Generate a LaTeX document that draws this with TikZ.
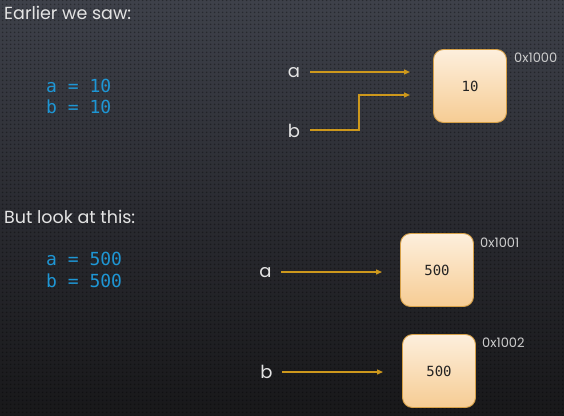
\documentclass[tikz,border=0pt]{standalone}
\usepackage{fontspec}
\usetikzlibrary{arrows.meta,patterns.meta}
\newfontfamily\titlefont{Poppins}
\newfontfamily\codefont{DejaVu Sans Mono}
\definecolor{bgtop}{RGB}{62,65,74}
\definecolor{bgmid}{RGB}{42,43,49}
\definecolor{bgbot}{RGB}{24,24,26}
\definecolor{txt}{RGB}{228,228,228}
\definecolor{addr}{RGB}{205,205,205}
\definecolor{code}{RGB}{30,150,212}
\definecolor{arr}{RGB}{205,152,28}
\definecolor{boxtop}{RGB}{253,239,220}
\definecolor{boxbot}{RGB}{246,204,148}
\definecolor{boxline}{RGB}{214,160,72}
\definecolor{valtxt}{RGB}{35,35,35}
\tikzset{
  heading/.style={anchor=base west, inner sep=0pt, text=txt, font=\titlefont\fontsize{17.5}{20}\selectfont},
  codeline/.style={anchor=base west, inner sep=0pt, text=code, font=\codefont\fontsize{18}{20}\selectfont},
  varname/.style={anchor=base, inner sep=0pt, text=txt, font=\titlefont\fontsize{18}{20}\selectfont},
  address/.style={anchor=base west, inner sep=0pt, text=addr, font=\titlefont\fontsize{13}{15}\selectfont},
  membox/.style={draw=boxline, line width=0.9pt, rounded corners=10pt, top color=boxtop, bottom color=boxbot, minimum width=73pt, minimum height=73pt, inner sep=0pt, text=valtxt, font=\codefont\fontsize{14}{16}\selectfont},
  pointer/.style={draw=arr, line width=1.3pt, -{Triangle[length=6pt,width=5pt]}},
}
\begin{document}
\begin{tikzpicture}[x=1pt,y=-1pt]
\useasboundingbox (0,0) rectangle (564,415);
% background
\shade[top color=bgtop, bottom color=bgbot, middle color=bgmid] (0,0) rectangle (564,415);
\fill[pattern={Dots[distance=4pt,radius=1pt]}, pattern color=black, opacity=0.35] (0,0) rectangle (564,415);

% headings
\node[heading] (h1) at (4,19) {Earlier we saw:};
\node[heading] (h2) at (4,223) {But look at this:};

% code
\node[codeline] (c1) at (46,92) {a = 10};
\node[codeline] (c2) at (46,113) {b = 10};
\node[codeline] (c3) at (46,265) {a = 500};
\node[codeline] (c4) at (46,287) {b = 500};

% top diagram
\node[membox] (m0) at (470,86) {10};
\node[address] (ad0) at (514,62) {0x1000};
\node[varname] (va) at (294,77) {a};
\node[varname] (vb) at (294,137) {b};
\coordinate (sa) at (310,72);
\coordinate (ea) at (410,72);
\coordinate (sb) at (310,130);
\coordinate (kb) at (359,130);
\coordinate (kb2) at (359,95);
\coordinate (eb) at (410,95);
\draw[pointer] (sa) -- (ea);
\draw[pointer] (sb) -- (kb) -- (kb2) -- (eb);

% bottom diagram
\node[membox] (m1) at (437,270) {500};
\node[address] (ad1) at (480,247) {0x1001};
\node[membox] (m2) at (439,371) {500};
\node[address] (ad2) at (482,347) {0x1002};
\node[varname] (va2) at (265.5,277) {a};
\node[varname] (vb2) at (266.5,378) {b};
\coordinate (sa2) at (281,272);
\coordinate (ea2) at (382,272);
\coordinate (sb2) at (282,372);
\coordinate (eb2) at (383,372);
\draw[pointer] (sa2) -- (ea2);
\draw[pointer] (sb2) -- (eb2);
\end{tikzpicture}
\end{document}
